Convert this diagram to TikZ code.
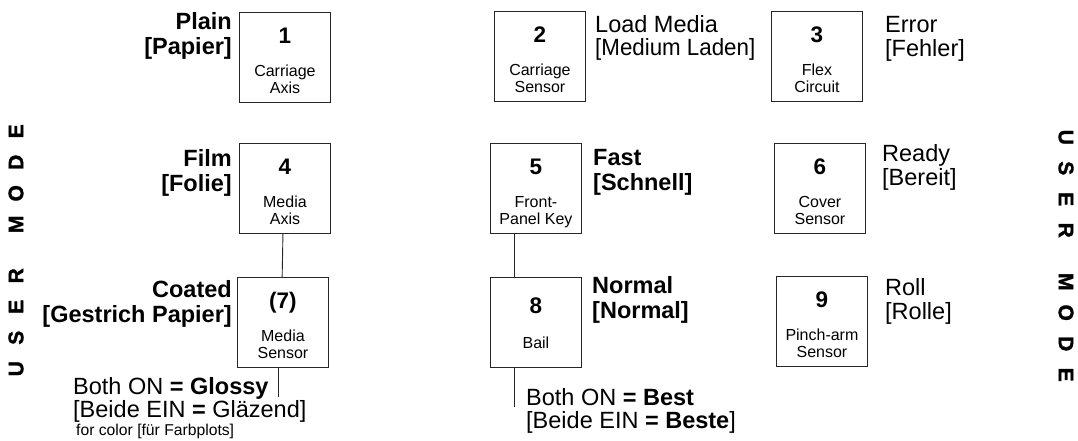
\documentclass[tikz,border=0pt]{standalone}
\usepackage{fontspec}
\setmainfont{Liberation Sans}
\newfontfamily\umfont{Liberation Sans}[BoldFeatures={FakeBold=1.5}]
\usetikzlibrary{calc}
\tikzset{
  box/.style={draw=black!85, line width=0.9pt, minimum width=91pt, minimum height=90pt, inner sep=0pt, anchor=north west},
  num/.style={font=\fontsize{22.5}{22.5}\selectfont\bfseries, anchor=base, inner sep=0pt},
  sub/.style={font=\fontsize{16}{17}\selectfont, anchor=base, align=center, inner sep=0pt},
  blabL/.style={font=\fontsize{23.5}{25}\selectfont\bfseries, anchor=base east, inner sep=0pt},
  blabR/.style={font=\fontsize{23.5}{25}\selectfont\bfseries, anchor=base west, inner sep=0pt},
  rlab/.style={font=\fontsize{23.5}{20}\selectfont, anchor=base west, inner sep=0pt},
  small/.style={font=\fontsize{15.7}{17}\selectfont, anchor=base west, inner sep=0pt},
  conn/.style={draw=black!85, line width=0.9pt},
  umode/.style={font=\fontsize{21}{21}\selectfont\umfont\bfseries, inner sep=0pt},
}
\newcommand{\ul}[1]{\makebox[31pt]{#1}}
\newcommand{\usermode}{\ul{U}\ul{S}\ul{E}\ul{R}\hspace{20.5pt}\ul{M}\ul{O}\ul{D}\ul{E}}
\newcommand{\sensorbox}[6]{%
  \node[box] (#1) at (#2,#3) {};
  \node[num] (#1n) at ([yshift=-31pt]#1.north) {#4};
  \node[sub] (#1s) at ([yshift=-81pt]#1.north) {#5\\#6};
}
\begin{document}
\begin{tikzpicture}[x=1pt,y=-1pt]
\useasboundingbox (0,0) rectangle (1078,440);

% boxes
\sensorbox{b1}{239}{12}{1}{Carriage}{Axis}
\sensorbox{b2}{494}{11}{2}{Carriage}{Sensor}
\sensorbox{b3}{771}{11}{3}{Flex}{Circuit}
\sensorbox{b4}{239}{143}{4}{Media}{Axis}
\sensorbox{b5}{490}{143}{5}{Front-}{Panel Key}
\sensorbox{b6}{774}{143}{6}{Cover}{Sensor}
\sensorbox{b7}{237}{277}{(7)}{Media}{Sensor}
\node[box] (b8) at (490,277) {};
\node[num] (b8n) at ([yshift=-36pt]b8.north) {8};
\node[sub] (b8s) at ([yshift=-71pt]b8.north) {Bail};
\sensorbox{b9}{776}{276}{9}{Pinch-arm}{Sensor}

% connectors
\draw[conn] ([xshift=-2pt]b4.south) -- ([xshift=-0.8pt]b7.north);
\draw[conn] ([xshift=24pt]b5.south west) -- ([xshift=24pt]b8.north west);
\coordinate (e7) at (278,397);
\draw[conn] (b7.south -| e7) -- (e7);
\coordinate (e8) at (514,407);
\draw[conn] (b8.south -| e8) -- (e8);

% left labels (bold)
\node[blabL] (l1a) at (232,29) {Plain};
\node[blabL] (l1b) at (232,54) {[Papier]};
\node[blabL] (l4a) at (232,166) {Film};
\node[blabL] (l4b) at (232,191) {[Folie]};
\node[blabL] (l7a) at (232,297) {Coated};
\node[blabL] (l7b) at (232,322) {[Gestrich Papier]};

% right labels
\node[rlab] (l2a) at (595,32) {Load Media};
\node[rlab, xscale=0.95] (l2b) at (595,55) {[Medium Laden]};
\node[rlab] (l3a) at (885,32) {Error};
\node[rlab] (l3b) at (885,56) {[Fehler]};
\node[blabR] (l5a) at (593,165) {Fast};
\node[blabR] (l5b) at (593,190) {[Schnell]};
\node[rlab] (l6a) at (882,161) {Ready};
\node[rlab] (l6b) at (882,185) {[Bereit]};
\node[blabR] (l8a) at (592,293) {Normal};
\node[blabR] (l8b) at (592,318) {[Normal]};
\node[rlab] (l9a) at (885,295) {Roll};
\node[rlab] (l9b) at (885,319) {[Rolle]};

% bottom notes
\node[rlab] (g1) at (73,394) {Both ON \textbf{= Glossy}};
\node[rlab] (g2) at (73,417) {[Beide EIN \textbf{=} Gläzend]};
\node[small] (g3) at (76,435) {for color [für Farbplots]};
\node[rlab] (t1) at (526,405) {Both ON \textbf{= Best}};
\node[rlab] (t2) at (526,428) {[Beide EIN \textbf{= Beste}]};

% USER MODE
\node[umode, rotate=90] (uml) at (16,250) {\usermode};
\node[umode, rotate=-90] (umr) at (1066,256) {\usermode};
\end{tikzpicture}
\end{document}
